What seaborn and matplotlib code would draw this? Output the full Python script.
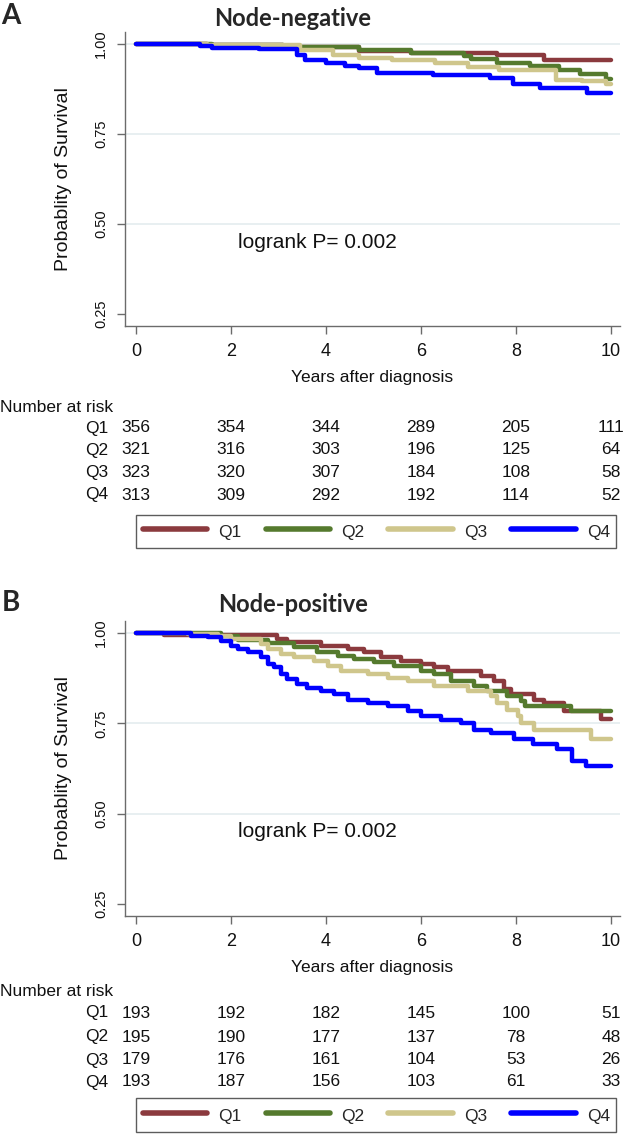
import numpy as np
import pandas as pd
import matplotlib
matplotlib.use('Agg')
import matplotlib.pyplot as plt
from matplotlib.transforms import blended_transform_factory
import seaborn as sns

# groups and colours
groups = ['Q1', 'Q2', 'Q3', 'Q4']
colors = ['#8B3A3E', '#557A2E', '#CFC68C', '#0000FF']
risk_times = [0, 2, 4, 6, 8, 10]

# Node-negative KM steps (years, survival)
neg_q1_t = [0, 1.5, 3.1, 4.7, 5.8, 7.6, 8.6, 10]
neg_q1_s = [1.0, 0.998, 0.993, 0.981, 0.974, 0.970, 0.956, 0.956]
neg_q2_t = [0, 1.6, 3.1, 4.7, 5.8, 6.9, 7.05, 7.6, 8.3, 8.9, 9.35, 9.9, 10]
neg_q2_s = [1.0, 0.997, 0.992, 0.984, 0.976, 0.968, 0.958, 0.948, 0.938, 0.929, 0.918, 0.902, 0.902]
neg_q3_t = [0, 1.5, 3.45, 4.15, 4.7, 5.4, 6.3, 7.0, 7.65, 8.85, 9.4, 9.9, 10]
neg_q3_s = [1.0, 0.996, 0.983, 0.970, 0.961, 0.956, 0.947, 0.937, 0.928, 0.900, 0.896, 0.889, 0.889]
neg_q4_t = [0, 1.35, 1.6, 2.6, 3.4, 3.55, 4.0, 4.4, 4.7, 5.07, 6.26, 7.45, 7.94, 8.5, 9.5, 10]
neg_q4_s = [1.0, 0.995, 0.99, 0.985, 0.97, 0.956, 0.948, 0.94, 0.933, 0.919, 0.914, 0.905, 0.89, 0.878, 0.865, 0.865]

# Node-positive KM steps
pos_q1_t = [0, 0.6, 2.98, 3.19, 3.89, 4.46, 4.81, 5.16, 5.58, 6.0, 6.28, 6.56, 7.26, 7.54, 7.75, 7.89, 8.39, 8.6, 9.02, 9.79, 10]
pos_q1_s = [1.0, 0.994, 0.984, 0.975, 0.965, 0.956, 0.947, 0.933, 0.923, 0.914, 0.905, 0.895, 0.881, 0.867, 0.844, 0.83, 0.816, 0.806, 0.783, 0.761, 0.761]
pos_q2_t = [0, 1.79, 2.14, 2.77, 3.33, 3.82, 4.25, 4.6, 5.02, 5.44, 6.0, 6.28, 6.63, 7.12, 7.4, 7.82, 8.1, 8.18, 9.16, 10]
pos_q2_s = [1.0, 0.993, 0.982, 0.972, 0.961, 0.947, 0.937, 0.928, 0.919, 0.909, 0.895, 0.886, 0.867, 0.853, 0.839, 0.825, 0.811, 0.797, 0.783, 0.783]
pos_q3_t = [0, 1.09, 1.72, 2.0, 2.63, 2.77, 3.05, 3.33, 3.75, 4.04, 4.32, 4.88, 5.3, 5.72, 6.28, 6.98, 7.47, 7.61, 7.82, 8.04, 8.1, 8.39, 9.58, 10]
pos_q3_s = [1.0, 0.996, 0.993, 0.984, 0.97, 0.956, 0.942, 0.933, 0.923, 0.909, 0.895, 0.886, 0.876, 0.867, 0.853, 0.839, 0.825, 0.806, 0.787, 0.769, 0.75, 0.731, 0.708, 0.708]
pos_q4_t = [0, 1.16, 1.51, 1.79, 2.0, 2.14, 2.35, 2.63, 2.77, 2.91, 3.05, 3.19, 3.4, 3.61, 3.89, 4.18, 4.46, 4.88, 5.3, 5.72, 6.0, 6.42, 6.84, 7.12, 7.47, 7.96, 8.36, 8.86, 9.18, 9.47, 10]
pos_q4_s = [1.0, 0.993, 0.988, 0.979, 0.965, 0.956, 0.947, 0.933, 0.914, 0.905, 0.886, 0.872, 0.858, 0.848, 0.839, 0.83, 0.816, 0.806, 0.797, 0.783, 0.769, 0.759, 0.75, 0.731, 0.722, 0.708, 0.693, 0.68, 0.646, 0.631, 0.631]

# numbers at risk
neg_risk = [[356, 354, 344, 289, 205, 111],
            [321, 316, 303, 196, 125, 64],
            [323, 320, 307, 184, 108, 58],
            [313, 309, 292, 192, 114, 52]]
pos_risk = [[193, 192, 182, 145, 100, 51],
            [195, 190, 177, 137, 78, 48],
            [179, 176, 161, 104, 53, 26],
            [193, 187, 156, 103, 61, 33]]

sns.set_theme(style='white')
plt.rcParams['font.family'] = ['Liberation Sans', 'DejaVu Sans']

W, H = 630, 1137
fig = plt.figure(figsize=(W / 100, H / 100), dpi=100)
TXT = '#111111'


def fx(px):
    return px / W


def fy(py):
    return 1 - py / H


def panel(top, bottom, curves, risk, title, letter, title_y, letter_y, risk_rows, leg_top, leg_bot):
    ax = fig.add_axes([fx(125), fy(bottom), fx(620) - fx(125), (bottom - top) / H])
    frames = []
    for g, (t, s) in zip(groups, curves):
        frames.append(pd.DataFrame({'years': t, 'surv': s, 'group': g}))
    df = pd.concat(frames, ignore_index=True)

    for yv in [0.5, 0.75, 1.0]:
        ax.axhline(yv, color='#E4ECEF', lw=1.2, zorder=0)

    sns.lineplot(data=df, x='years', y='surv', hue='group', palette=dict(zip(groups, colors)),
                 drawstyle='steps-post', estimator=None, sort=False, linewidth=3.2, ax=ax)

    ax.set_xlim(-0.23, 10.19)
    ax.set_ylim(0.2167, 1.0333)
    ax.set_xticks(risk_times)
    ax.set_yticks([0.25, 0.5, 0.75, 1.0])
    ax.set_yticklabels(['0.25', '0.50', '0.75', '1.00'], rotation=90, va='center')
    for sp in ['top', 'right']:
        ax.spines[sp].set_visible(False)
    for sp in ['left', 'bottom']:
        ax.spines[sp].set_color('#6B6B6B')
        ax.spines[sp].set_linewidth(1)
    ax.tick_params(axis='both', direction='out', length=6, width=1, color='#6B6B6B',
                   labelcolor=TXT, left=True, bottom=True)
    ax.tick_params(axis='x', pad=6, labelsize=13)
    ax.tick_params(axis='y', pad=6, labelsize=10.5)
    ax.set_xlabel('Years after diagnosis', fontsize=12.5, color=TXT)
    ax.set_ylabel('Probablity of Survival', fontsize=14, color=TXT)
    ax.xaxis.set_label_coords(0.5, -0.150)
    ax.yaxis.set_label_coords(-0.107, 0.5)

    fig.text(fx(293), fy(title_y), title, ha='center', va='baseline',
             fontsize=17, fontweight='bold', family=['Lato', 'DejaVu Sans'])
    fig.text(0.002, fy(letter_y), letter, ha='left', va='center', fontsize=20,
             fontweight='bold', family=['Lato', 'DejaVu Sans'])
    ax.text(2.15, 0.45, 'logrank P= 0.002', fontsize=15, color=TXT, va='center')

    # number at risk table
    tr = blended_transform_factory(ax.transData, fig.transFigure)
    fig.text(0.0, fy(risk_rows[0]), 'Number at risk', ha='left', va='center', fontsize=12.5, color=TXT)
    for i, g in enumerate(groups):
        yy = fy(risk_rows[i + 1])
        ax.text(-0.59, yy, g, transform=tr, ha='right', va='center', fontsize=12.5, color=TXT)
        for t, n in zip(risk_times, risk[i]):
            ax.text(t, yy, str(n), transform=tr, ha='center', va='center', fontsize=12.5, color=TXT)

    sns.move_legend(ax, loc='center', bbox_to_anchor=(fx(136.5), fy(leg_bot), fx(616) - fx(136.5), (leg_bot - leg_top) / H),
                    bbox_transform=fig.transFigure, ncol=4, mode='expand', title=None, frameon=True,
                    fancybox=False, edgecolor='#333333', fontsize=12.5, handlelength=3.7,
                    handletextpad=0.65, borderpad=0.35, borderaxespad=0, handleheight=1.5)
    leg = ax.get_legend()
    leg.get_frame().set_linewidth(1)
    for h in leg.legend_handles:
        h.set_linewidth(4)
    return ax


panel(32, 326,
      [(neg_q1_t, neg_q1_s), (neg_q2_t, neg_q2_s), (neg_q3_t, neg_q3_s), (neg_q4_t, neg_q4_s)],
      neg_risk, 'Node-negative', 'A', 26, 16, [407, 428, 450, 472, 495], 513, 550)
panel(621, 916,
      [(pos_q1_t, pos_q1_s), (pos_q2_t, pos_q2_s), (pos_q3_t, pos_q3_s), (pos_q4_t, pos_q4_s)],
      pos_risk, 'Node-positive', 'B', 612, 603, [992, 1013, 1037, 1060, 1082], 1096, 1134)

fig.savefig('out.png', dpi=100)
